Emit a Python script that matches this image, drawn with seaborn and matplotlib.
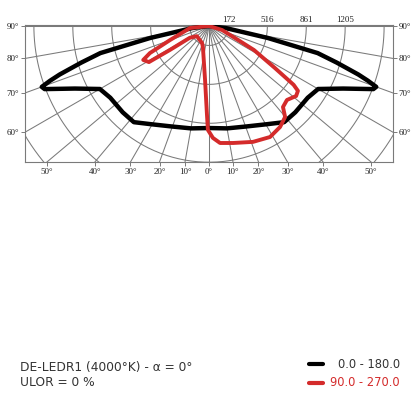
# -*- coding: utf-8 -*-
import numpy as np
import pandas as pd
import matplotlib
matplotlib.use('Agg')
import matplotlib.pyplot as plt
from matplotlib.lines import Line2D
import seaborn as sns

sns.set_style('white')
plt.rcParams['font.family'] = ['DejaVu Sans']

# C0 - C180 plane (symmetric), gamma in degrees, intensity in cd
black_gamma = [0, 10, 20, 30, 38, 45, 54, 60, 65, 69, 70, 71, 72, 74, 76, 78.5, 83, 90]
black_cd = [903, 920, 947, 1005, 1080, 1080, 1080, 1115, 1310, 1558, 1575, 1487, 1390, 1177, 991, 531, 150, 0]

# C90 - C270 plane, signed gamma (negative = C270 side)
red_gamma = [-90, -84, -70.3, -65.4, -62.7, -59, -58.5, -58.5, -50, -22, -16, -4.2, -1.3, -0.6,
             2, 5.4, 11.6, 20.8, 28.8, 35.1, 39.9, 42.4, 46.5, 51.2, 53.9, 55.2, 57.5, 61.9, 65.2, 73, 90]
red_cd = [0, 168, 363, 575, 655, 620, 407, 199, 140, 163, 195, 478, 788, 920,
          991, 1040, 1057, 1097, 1121, 1093, 1050, 971, 951, 989, 974, 912, 690, 451, 253, 120, 0]

ring_labels = [172, 516, 861, 1205]
bottom_angles = [-50, -40, -30, -20, -10, 0, 10, 20, 30, 40, 50]
side_angles = [90, 80, 70, 60]
title_lines = ['DE-LEDR1 (4000°K) - α = 0°', 'ULOR = 0 %']
legend_labels = ['0.0 - 180.0', '90.0 - 270.0']

k = 8.85  # cd per pixel of the drawing


def to_xy(gamma, cd):
    g = np.radians(np.asarray(gamma, dtype=float))
    i = np.asarray(cd, dtype=float)
    return pd.DataFrame({'x': i * np.sin(g), 'y': -i * np.cos(g)})


bg = np.array(black_gamma)
bc = np.array(black_cd)
df_black = to_xy(np.concatenate([-bg[::-1], bg[1:]]), np.concatenate([bc[::-1], bc[1:]]))
df_red = to_xy(red_gamma, red_cd)

W, H = 413, 413
fig = plt.figure(figsize=(W / 100, H / 100), dpi=100)
ax = fig.add_axes([25 / W, 1 - 162 / H, 368 / W, 137 / H])

grid_c = '#7a7a7a'
red_c = '#d42b2b'
# polar grid: radial gamma lines and intensity circles
for g in range(-90, 91, 10):
    r = np.radians(g)
    ax.plot([0, 4000 * np.sin(r)], [0, -4000 * np.cos(r)], color=grid_c, lw=0.75, zorder=1)
t = np.linspace(0, 2 * np.pi, 400)
for rad in 172.2 * np.arange(1, 14, 2):
    ax.plot(rad * np.cos(t), rad * np.sin(t), color=grid_c, lw=0.75, zorder=1)

sns.lineplot(data=df_black, x='x', y='y', sort=False, estimator=None, color='black',
             lw=3.2, ax=ax, zorder=3, solid_joinstyle='round')
sns.lineplot(data=df_red, x='x', y='y', sort=False, estimator=None, color=red_c,
             lw=2.8, ax=ax, zorder=4, solid_joinstyle='round')

ax.set_xlim(-184 * k, 184 * k)
ax.set_ylim(-136 * k, 1 * k)
ax.set_xlabel('')
ax.set_ylabel('')
for s in ax.spines.values():
    s.set_color(grid_c)
    s.set_linewidth(0.8)

lab_font = dict(family='Liberation Serif', size=6.5, color='#222222')
ax.set_xticks([136 * k * np.tan(np.radians(g)) for g in bottom_angles])
ax.set_xticklabels([f'{abs(g)}°' for g in bottom_angles], fontdict=lab_font)
ax.set_yticks([-184 * k / np.tan(np.radians(g)) if g != 90 else 0 for g in side_angles])
ax.set_yticklabels([f'{g}°' for g in side_angles], fontdict=lab_font)
ax.tick_params(axis='both', length=3, width=0.7, color=grid_c, pad=1,
               left=True, right=True, bottom=True, labelright=True)

for v in ring_labels:
    ax.text(v, 1.01, str(v), transform=ax.get_xaxis_transform(), ha='center', va='bottom',
            fontfamily='Liberation Serif', fontsize=6.5, color='#222222')

fs = 8.8
fig.text(20 / W, 1 - 367 / H, title_lines[0], ha='left', va='center', fontsize=fs, color='#333333')
fig.text(20 / W, 1 - 383 / H, title_lines[1], ha='left', va='center', fontsize=fs, color='#333333')

fig.add_artist(Line2D([309 / W, 323 / W], [1 - 364 / H] * 2, color='black', lw=3))
fig.add_artist(Line2D([309 / W, 323 / W], [1 - 383 / H] * 2, color=red_c, lw=3))
fig.text(400 / W, 1 - 364 / H, legend_labels[0], ha='right', va='center', fontsize=8.3, color='#333333')
fig.text(400 / W, 1 - 383 / H, legend_labels[1], ha='right', va='center', fontsize=8.3, color=red_c)

fig.savefig('out.png', dpi=100, facecolor='white')
